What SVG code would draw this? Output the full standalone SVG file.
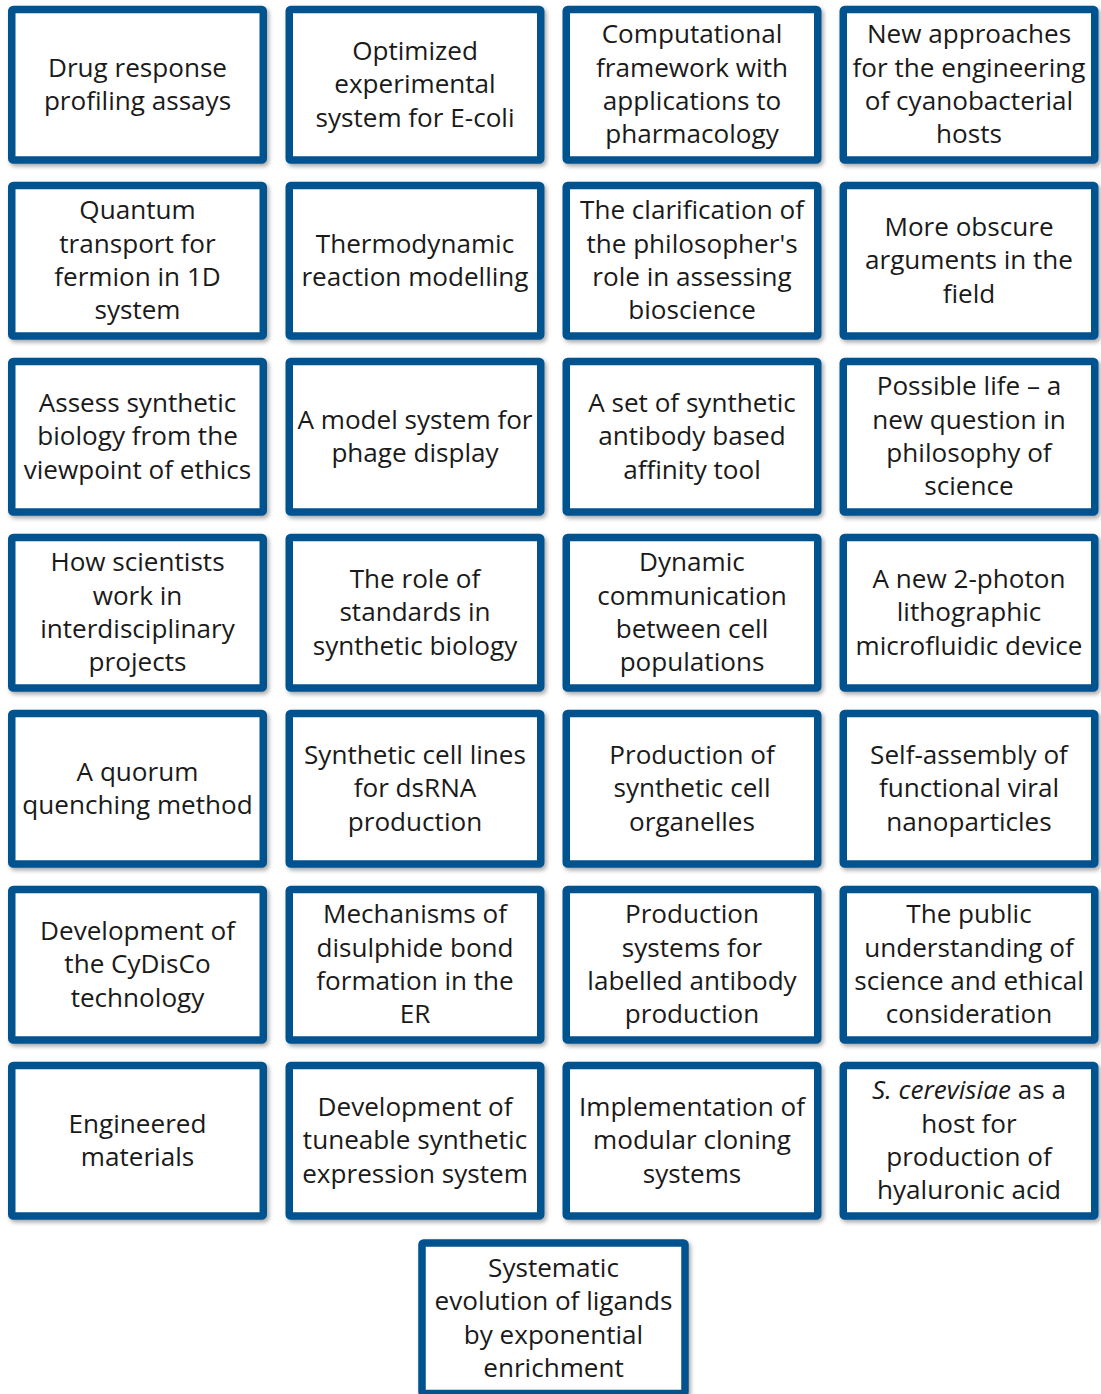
<svg xmlns="http://www.w3.org/2000/svg" width="1101" height="1394" viewBox="0 0 1101 1394">
<defs>
<filter id="sh" x="-10%" y="-10%" width="125%" height="125%">
<feDropShadow dx="2" dy="2.5" stdDeviation="2" flood-color="#000" flood-opacity="0.35"/>
</filter>
<style>
.box{fill:#fff;stroke:#03528f;stroke-width:7.5;filter:url(#sh)}
.t{font-family:"Open Sans","Noto Sans",sans-serif;font-size:26.1px;fill:#1a1a1a;text-anchor:middle}
.i{font-style:italic}
</style>
</defs>
<rect width="1101" height="1394" fill="#fff"/>
<g id="connectors"></g>

<g id="n1"><rect class="box" x="11.75" y="9.45" width="251.5" height="150.5" rx="1.5"/>
<text class="t"><tspan x="137.5" y="76.7">Drug response</tspan><tspan x="137.5" y="110">profiling assays</tspan></text></g>
<g id="n2"><rect class="box" x="289.25" y="9.45" width="251.5" height="150.5" rx="1.5"/>
<text class="t"><tspan x="415" y="60">Optimized</tspan><tspan x="415" y="93.3">experimental</tspan><tspan x="415" y="126.6">system for E-coli</tspan></text></g>
<g id="n3"><rect class="box" x="566.25" y="9.45" width="251.5" height="150.5" rx="1.5"/>
<text class="t"><tspan x="692" y="43.4">Computational</tspan><tspan x="692" y="76.7">framework with</tspan><tspan x="692" y="110">applications to</tspan><tspan x="692" y="143.3">pharmacology</tspan></text></g>
<g id="n4"><rect class="box" x="843.25" y="9.45" width="251.5" height="150.5" rx="1.5"/>
<text class="t"><tspan x="969" y="43.4">New approaches</tspan><tspan x="969" y="76.7">for the engineering</tspan><tspan x="969" y="110">of cyanobacterial</tspan><tspan x="969" y="143.3">hosts</tspan></text></g>

<g id="n5"><rect class="box" x="11.75" y="185.45" width="251.5" height="150.5" rx="1.5"/>
<text class="t"><tspan x="137.5" y="219.4">Quantum</tspan><tspan x="137.5" y="252.7">transport for</tspan><tspan x="137.5" y="286">fermion in 1D</tspan><tspan x="137.5" y="319.3">system</tspan></text></g>
<g id="n6"><rect class="box" x="289.25" y="185.45" width="251.5" height="150.5" rx="1.5"/>
<text class="t"><tspan x="415" y="252.7">Thermodynamic</tspan><tspan x="415" y="286">reaction modelling</tspan></text></g>
<g id="n7"><rect class="box" x="566.25" y="185.45" width="251.5" height="150.5" rx="1.5"/>
<text class="t"><tspan x="692" y="219.4">The clarification of</tspan><tspan x="692" y="252.7">the philosopher's</tspan><tspan x="692" y="286">role in assessing</tspan><tspan x="692" y="319.3">bioscience</tspan></text></g>
<g id="n8"><rect class="box" x="843.25" y="185.45" width="251.5" height="150.5" rx="1.5"/>
<text class="t"><tspan x="969" y="236">More obscure</tspan><tspan x="969" y="269.3">arguments in the</tspan><tspan x="969" y="302.6">field</tspan></text></g>

<g id="n9"><rect class="box" x="11.75" y="361.45" width="251.5" height="150.5" rx="1.5"/>
<text class="t"><tspan x="137.5" y="412">Assess synthetic</tspan><tspan x="137.5" y="445.3">biology from the</tspan><tspan x="137.5" y="478.6">viewpoint of ethics</tspan></text></g>
<g id="n10"><rect class="box" x="289.25" y="361.45" width="251.5" height="150.5" rx="1.5"/>
<text class="t"><tspan x="415" y="428.7">A model system for</tspan><tspan x="415" y="462">phage display</tspan></text></g>
<g id="n11"><rect class="box" x="566.25" y="361.45" width="251.5" height="150.5" rx="1.5"/>
<text class="t"><tspan x="692" y="412">A set of synthetic</tspan><tspan x="692" y="445.3">antibody based</tspan><tspan x="692" y="478.6">affinity tool</tspan></text></g>
<g id="n12"><rect class="box" x="843.25" y="361.45" width="251.5" height="150.5" rx="1.5"/>
<text class="t"><tspan x="969" y="395.4">Possible life – a</tspan><tspan x="969" y="428.7">new question in</tspan><tspan x="969" y="462">philosophy of</tspan><tspan x="969" y="495.3">science</tspan></text></g>

<g id="n13"><rect class="box" x="11.75" y="537.45" width="251.5" height="150.5" rx="1.5"/>
<text class="t"><tspan x="137.5" y="571.4">How scientists</tspan><tspan x="137.5" y="604.7">work in</tspan><tspan x="137.5" y="638">interdisciplinary</tspan><tspan x="137.5" y="671.3">projects</tspan></text></g>
<g id="n14"><rect class="box" x="289.25" y="537.45" width="251.5" height="150.5" rx="1.5"/>
<text class="t"><tspan x="415" y="588">The role of</tspan><tspan x="415" y="621.3">standards in</tspan><tspan x="415" y="654.6">synthetic biology</tspan></text></g>
<g id="n15"><rect class="box" x="566.25" y="537.45" width="251.5" height="150.5" rx="1.5"/>
<text class="t"><tspan x="692" y="571.4">Dynamic</tspan><tspan x="692" y="604.7">communication</tspan><tspan x="692" y="638">between cell</tspan><tspan x="692" y="671.3">populations</tspan></text></g>
<g id="n16"><rect class="box" x="843.25" y="537.45" width="251.5" height="150.5" rx="1.5"/>
<text class="t"><tspan x="969" y="588">A new 2-photon</tspan><tspan x="969" y="621.3">lithographic</tspan><tspan x="969" y="654.6">microfluidic device</tspan></text></g>

<g id="n17"><rect class="box" x="11.75" y="713.45" width="251.5" height="150.5" rx="1.5"/>
<text class="t"><tspan x="137.5" y="780.7">A quorum</tspan><tspan x="137.5" y="814">quenching method</tspan></text></g>
<g id="n18"><rect class="box" x="289.25" y="713.45" width="251.5" height="150.5" rx="1.5"/>
<text class="t"><tspan x="415" y="764">Synthetic cell lines</tspan><tspan x="415" y="797.3">for dsRNA</tspan><tspan x="415" y="830.6">production</tspan></text></g>
<g id="n19"><rect class="box" x="566.25" y="713.45" width="251.5" height="150.5" rx="1.5"/>
<text class="t"><tspan x="692" y="764">Production of</tspan><tspan x="692" y="797.3">synthetic cell</tspan><tspan x="692" y="830.6">organelles</tspan></text></g>
<g id="n20"><rect class="box" x="843.25" y="713.45" width="251.5" height="150.5" rx="1.5"/>
<text class="t"><tspan x="969" y="764">Self-assembly of</tspan><tspan x="969" y="797.3">functional viral</tspan><tspan x="969" y="830.6">nanoparticles</tspan></text></g>

<g id="n21"><rect class="box" x="11.75" y="889.45" width="251.5" height="150.5" rx="1.5"/>
<text class="t"><tspan x="137.5" y="940">Development of</tspan><tspan x="137.5" y="973.3">the CyDisCo</tspan><tspan x="137.5" y="1006.6">technology</tspan></text></g>
<g id="n22"><rect class="box" x="289.25" y="889.45" width="251.5" height="150.5" rx="1.5"/>
<text class="t"><tspan x="415" y="923.4">Mechanisms of</tspan><tspan x="415" y="956.7">disulphide bond</tspan><tspan x="415" y="990">formation in the</tspan><tspan x="415" y="1023.3">ER</tspan></text></g>
<g id="n23"><rect class="box" x="566.25" y="889.45" width="251.5" height="150.5" rx="1.5"/>
<text class="t"><tspan x="692" y="923.4">Production</tspan><tspan x="692" y="956.7">systems for</tspan><tspan x="692" y="990">labelled antibody</tspan><tspan x="692" y="1023.3">production</tspan></text></g>
<g id="n24"><rect class="box" x="843.25" y="889.45" width="251.5" height="150.5" rx="1.5"/>
<text class="t"><tspan x="969" y="923.4">The public</tspan><tspan x="969" y="956.7">understanding of</tspan><tspan x="969" y="990">science and ethical</tspan><tspan x="969" y="1023.3">consideration</tspan></text></g>

<g id="n25"><rect class="box" x="11.75" y="1065.45" width="251.5" height="150.5" rx="1.5"/>
<text class="t"><tspan x="137.5" y="1132.7">Engineered</tspan><tspan x="137.5" y="1166">materials</tspan></text></g>
<g id="n26"><rect class="box" x="289.25" y="1065.45" width="251.5" height="150.5" rx="1.5"/>
<text class="t"><tspan x="415" y="1116">Development of</tspan><tspan x="415" y="1149.3">tuneable synthetic</tspan><tspan x="415" y="1182.6">expression system</tspan></text></g>
<g id="n27"><rect class="box" x="566.25" y="1065.45" width="251.5" height="150.5" rx="1.5"/>
<text class="t"><tspan x="692" y="1116">Implementation of</tspan><tspan x="692" y="1149.3">modular cloning</tspan><tspan x="692" y="1182.6">systems</tspan></text></g>
<g id="n28"><rect class="box" x="843.25" y="1065.45" width="251.5" height="150.5" rx="1.5"/>
<text class="t"><tspan x="969" y="1099.4"><tspan class="i">S. cerevisiae</tspan> as a</tspan><tspan x="969" y="1132.7">host for</tspan><tspan x="969" y="1166">production of</tspan><tspan x="969" y="1199.3">hyaluronic acid</tspan></text></g>

<g id="n29"><rect class="box" x="422" y="1243" width="263" height="150.5" rx="1.5"/>
<text class="t"><tspan x="553.5" y="1277">Systematic</tspan><tspan x="553.5" y="1310.3">evolution of ligands</tspan><tspan x="553.5" y="1343.6">by exponential</tspan><tspan x="553.5" y="1376.9">enrichment</tspan></text></g>
</svg>
